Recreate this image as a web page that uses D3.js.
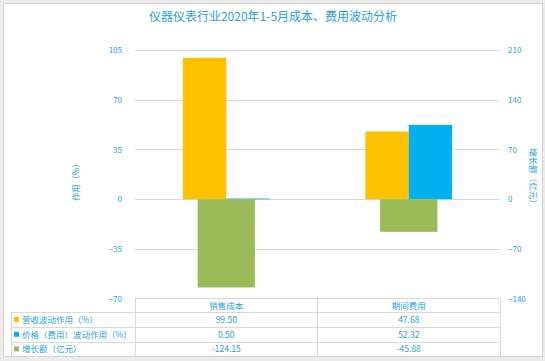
<!DOCTYPE html>
<html><head><meta charset="utf-8">
<script src="https://cdn.jsdelivr.net/npm/d3@7"></script>
<style>
html,body{margin:0;padding:0;background:#ececec;}
svg{display:block;font-family:"Noto Sans CJK SC","Noto Sans",sans-serif;}
</style></head>
<body><svg id="c" width="545" height="361"></svg>
<script>
const title = "仪器仪表行业2020年1-5月成本、费用波动分析";
const categories = ["销售成本", "期间费用"];
const seriesNames = ["营收波动作用（%）", "价格（费用）波动作用（%）", "增长额（亿元）"];
const revenueEffect = [99.50, 47.68];
const priceEffect = [0.50, 52.32];
const growthAmount = [-124.15, -45.88];
const leftTicks = [-70, -35, 0, 35, 70, 105];
const rightTicks = [-140, -70, 0, 70, 140, 210];
const leftTitle = "作用（%）";
const rightTitle = "增长额（亿元）";

const colors = ["#FFC000", "#00B0F0", "#9BBB59"];
const txt = "#2A9FD8";
const grid = "#D9D9D9";

const svg = d3.select("#c");
// chart area
svg.append("rect").attr("x", 3.5).attr("y", 3.5).attr("width", 539).attr("height", 353)
  .attr("fill", "#fff").attr("stroke", "#d4d4d4");

const L = 135, R = 500, T = 50, B = 298.7;
const yL = d3.scaleLinear().domain([-70, 105]).range([B, T]);
const yR = d3.scaleLinear().domain([-140, 210]).range([B, T]);
const x = d3.scaleBand().domain(categories).range([L, R]);
const inner = d3.scaleBand().domain([0, 1]).range([0, 86.7]);

svg.append("text").attr("x", 273).attr("y", 21).attr("text-anchor", "middle")
  .attr("font-size", 12).attr("fill", txt).text(title);

// gridlines
svg.append("g").selectAll("line").data(leftTicks.filter(d => d > -70)).join("line")
  .attr("x1", L).attr("x2", R).attr("y1", d => Math.round(yL(d)) + 0.5).attr("y2", d => Math.round(yL(d)) + 0.5)
  .attr("stroke", grid).attr("stroke-width", 1);

// left axis
const ax = d3.axisLeft(yL).tickValues(leftTicks).tickSize(0).tickPadding(0);
const gL = svg.append("g").attr("transform", `translate(${L - 13},0)`).call(ax);
gL.select(".domain").remove();
gL.selectAll("text").attr("fill", txt).attr("font-size", 8).attr("font-family", "Noto Sans CJK SC");
const axR = d3.axisRight(yR).tickValues(rightTicks).tickSize(0).tickPadding(0);
const gR = svg.append("g").attr("transform", `translate(508,0)`).call(axR);
gR.select(".domain").remove();
gR.selectAll("text").attr("fill", txt).attr("font-size", 8).attr("font-family", "Noto Sans CJK SC");

svg.append("text").attr("transform", "translate(79,180) rotate(-90)").attr("text-anchor", "middle")
  .attr("font-size", 8.5).attr("fill", txt).text(leftTitle);
svg.append("text").attr("transform", "translate(530,178) rotate(90)").attr("text-anchor", "middle")
  .attr("font-size", 8.5).attr("fill", txt).text(rightTitle);

// primary bars
const primary = [revenueEffect, priceEffect];
primary.forEach((vals, s) => {
  svg.append("g").selectAll("rect").data(categories).join("rect")
    .attr("x", (c) => x(c) + x.bandwidth() / 2 - 43.35 + inner(s))
    .attr("width", inner.bandwidth())
    .attr("y", (c, i) => yL(Math.max(0, vals[i])))
    .attr("height", (c, i) => Math.max(0.8, Math.abs(yL(vals[i]) - yL(0))))
    .attr("fill", colors[s]);
});
// secondary bars
const gw = 57.3;
svg.append("g").selectAll("rect").data(categories).join("rect")
  .attr("x", c => x(c) + x.bandwidth() / 2 - gw / 2)
  .attr("width", gw)
  .attr("y", (c, i) => yR(Math.max(0, growthAmount[i])))
  .attr("height", (c, i) => Math.abs(yR(growthAmount[i]) - yR(0)))
  .attr("fill", colors[2]);

// data table
const rowY = [298.5, 312.7, 327.3, 342.3, 356.5];
const tb = svg.append("g").attr("stroke", "#D9D9D9").attr("stroke-width", 1).attr("shape-rendering", "crispEdges");
tb.append("line").attr("x1", L).attr("x2", R).attr("y1", rowY[0]).attr("y2", rowY[0]);
[1, 2, 3].forEach(i => tb.append("line").attr("x1", 11).attr("x2", R).attr("y1", rowY[i]).attr("y2", rowY[i]));
tb.append("line").attr("x1", 11).attr("x2", 11).attr("y1", rowY[1]).attr("y2", rowY[4]);
[L, L + x.bandwidth(), R].forEach(xx => tb.append("line").attr("x1", xx).attr("x2", xx).attr("y1", rowY[0]).attr("y2", rowY[4]));

svg.append("g").selectAll("text").data(categories).join("text")
  .attr("x", c => x(c) + x.bandwidth() / 2).attr("y", 309).attr("text-anchor", "middle")
  .attr("font-size", 8.5).attr("fill", txt).text(c => c);

const allSeries = [revenueEffect, priceEffect, growthAmount];
allSeries.forEach((vals, s) => {
  const cy = (rowY[s + 1] + rowY[s + 2]) / 2;
  svg.append("rect").attr("x", 14).attr("y", cy - 3).attr("width", 5).attr("height", 5).attr("fill", colors[s]);
  svg.append("text").attr("x", 22).attr("y", cy + 3).attr("font-size", 8.5).attr("fill", txt).text(seriesNames[s]);
  svg.append("g").selectAll("text").data(categories).join("text")
    .attr("x", c => x(c) + x.bandwidth() / 2).attr("y", cy + 3).attr("text-anchor", "middle")
    .attr("font-size", 8.5).attr("fill", txt).text((c, i) => vals[i].toFixed(2));
});
</script></body></html>
